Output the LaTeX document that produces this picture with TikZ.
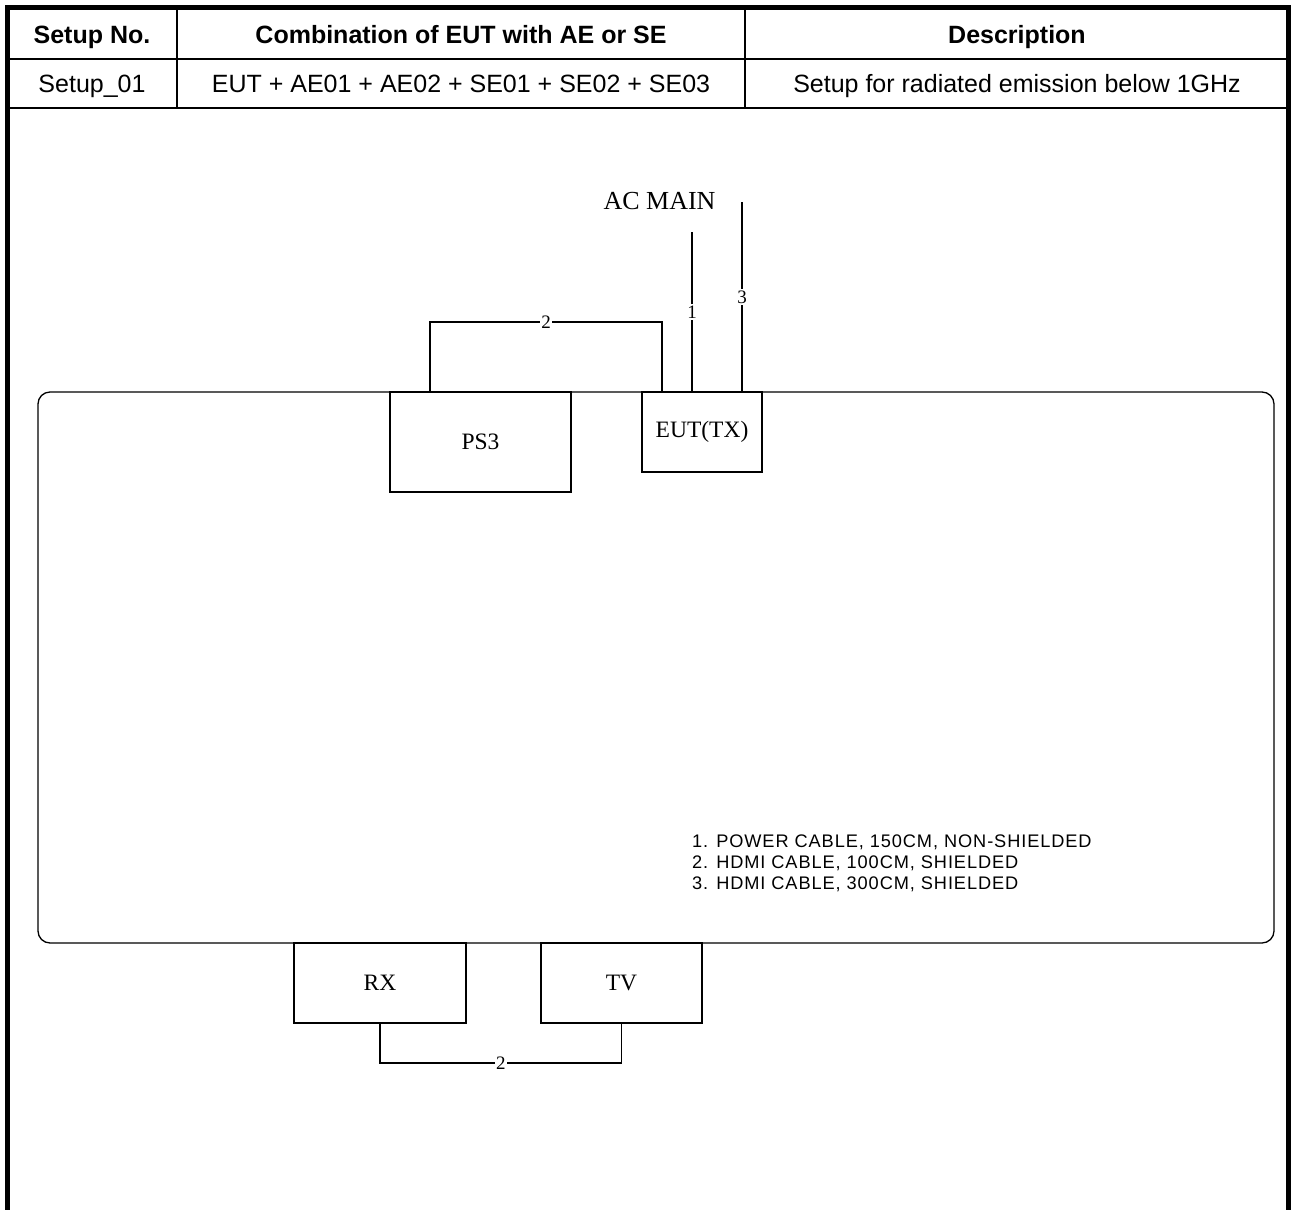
\documentclass[tikz,border=0pt]{standalone}
\usepackage{fontspec}
\setmainfont{Liberation Serif}
\newfontfamily\arialfont{Liberation Sans}
\newfontfamily\legendfont{Liberation Sans}[LetterSpace=5]
\usetikzlibrary{calc}
\begin{document}
\begin{tikzpicture}[x=1pt,y=-1pt,
  frame/.style={line width=5pt,line cap=rect},
  grid/.style={line width=2pt},
  head/.style={anchor=base,font=\arialfont\bfseries\fontsize{25}{30}\selectfont,inner sep=0pt},
  cell/.style={anchor=base,font=\arialfont\fontsize{25}{30}\selectfont,inner sep=0pt},
  dev/.style={draw,line width=1.3pt,rectangle,inner sep=0pt,outer sep=0pt,font=\fontsize{23.5}{28}\selectfont},
  cable/.style={line width=1.3pt},
  lbl/.style={fill=white,inner sep=1.5pt,font=\fontsize{19}{22}\selectfont},
  legend/.style={anchor=base west,inner sep=0pt,font=\legendfont\fontsize{18.2}{21}\selectfont}]
\useasboundingbox (0,0) rectangle (1293,1210);
% outer frame
\draw[frame] (7.5,1212) -- (7.5,7.5) -- (1288.5,7.5) -- (1288.5,1212);
% table grid
\draw[grid] (7.5,58.5) -- (1288.5,58.5);
\draw[grid] (7.5,108) -- (1288.5,108);
\draw[grid] (177,7.5) -- (177,108);
\draw[grid] (745,7.5) -- (745,108);
% table texts
\node[head] (h1) at (92,43) {Setup No.};
\node[head] (h2) at (461,43) {Combination of EUT with AE or SE};
\node[head] (h3) at (1017,43) {Description};
\node[cell] (r1) at (92,92) {Setup\_01};
\node[cell] (r2) at (461,92) {EUT + AE01 + AE02 + SE01 + SE02 + SE03};
\node[cell] (r3) at (1017,92) {Setup for radiated emission below 1GHz};
% bench
\draw[line width=1.3pt,rounded corners=12pt] (38,392) rectangle (1274,943);
\coordinate (bench) at (656,667);
% devices
\node[dev,minimum width=181pt,minimum height=100pt] (ps3) at (480.5,442) {PS3};
\node[dev,minimum width=120pt,minimum height=80pt] (eut) at (702,432) {EUT(TX)};
\node[dev,minimum width=172pt,minimum height=80pt] (rx) at (380,983) {RX};
\node[dev,minimum width=161pt,minimum height=80pt] (tv) at (621.5,983) {TV};
% AC main
\node[inner sep=0pt,font=\fontsize{26}{30}\selectfont] (ac) at (659.5,201) {AC MAIN};
\coordinate (ac1) at (692,232);
\coordinate (ac3) at (742,202);
% cables
\draw[cable] ([xshift=40pt]ps3.north west) |- node[lbl,pos=0.75]{2} ([xshift=20pt,yshift=70pt]eut.north west) -- ([xshift=20pt]eut.north west);
\draw[cable] ([xshift=-10pt]eut.north) -- node[lbl,pos=0.5]{1} (ac1);
\draw[cable] ([xshift=40pt]eut.north) -- node[lbl,pos=0.5]{3} (ac3);
\draw[cable] (rx.south) |- node[lbl,pos=0.75]{2} ([yshift=-40pt]tv.south) -- (tv.south);
% legend
\node[legend] (leg1) at (692,847) {1. POWER CABLE, 150CM, NON-SHIELDED};
\node[legend] (leg2) at (692,868) {2. HDMI CABLE, 100CM, SHIELDED};
\node[legend] (leg3) at (692,889) {3. HDMI CABLE, 300CM, SHIELDED};
\end{tikzpicture}
\end{document}
